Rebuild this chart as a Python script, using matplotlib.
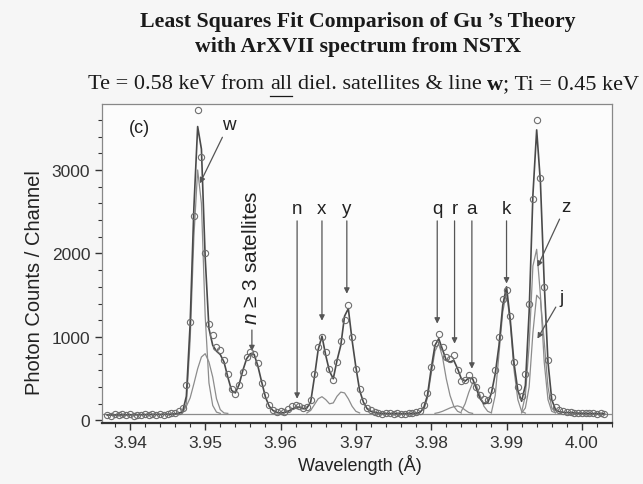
import numpy as np
import matplotlib
matplotlib.use('Agg')
import matplotlib.pyplot as plt
from matplotlib.ticker import MultipleLocator
from matplotlib.lines import Line2D

plt.rcParams['font.family'] = ['Liberation Sans', 'DejaVu Sans']
plt.rcParams['mathtext.fontset'] = 'custom'
plt.rcParams['mathtext.it'] = 'Liberation Sans:italic'
plt.rcParams['mathtext.rm'] = 'Liberation Sans'

########################## spectrum, 0.0005 A per channel from 3.9370 A
wl_start = 3.9370
wl_step = 0.0005
counts = [70, 55, 72, 64, 80, 62, 75, 58, 70, 66, 78, 60, 74, 69, 82, 71, 77, 85, 92,
          110, 150, 420, 1180, 2450, 3720, 3150, 2000, 1150, 1020, 880, 840, 720, 560,
          380, 320, 420, 580, 760, 820, 800, 690, 450, 300, 180, 130, 100, 110, 105,
          140, 170, 190, 175, 150, 160, 250, 560, 880, 1000, 820, 620, 480, 700, 950,
          1200, 1380, 1000, 620, 380, 230, 150, 120, 100,
          90, 78, 85, 95, 72, 88, 80, 76, 92, 84, 98,
          110, 180, 330, 640, 930, 1040, 880, 760, 740, 780, 600, 470, 490, 540, 480,
          400, 300, 260, 250, 360, 600, 1000, 1450, 1560, 1250, 700, 400, 290, 560,
          1400, 2650, 3600, 2900, 1600, 720, 280, 160, 130,
          110, 105, 100, 95, 92, 88, 86, 90, 84, 80, 88, 76]
fit = [65, 65, 66, 66, 67, 67, 68, 68, 69, 69, 70, 70, 71, 71, 72, 73, 74, 76, 80,
       88, 105, 290, 1150, 2550, 3520, 3250, 1950, 1100, 900, 830, 790, 700, 520,
       360, 330, 430, 600, 740, 800, 790, 650, 460, 280, 170, 120, 95, 90, 95,
       110, 135, 160, 160, 140, 150, 220, 520, 850, 1010, 780, 590, 500, 720, 900,
       1250, 1340, 960, 640, 360, 220, 140, 110, 95,
       88, 85, 84, 83, 82, 82, 82, 82, 83, 85, 88,
       95, 150, 300, 620, 900, 980, 850, 720, 700, 720, 620, 500, 470, 510, 500,
       380, 260, 200, 210, 330, 560, 900, 1380, 1600, 1200, 680, 360, 230, 420,
       1300, 2700, 3480, 2850, 1650, 700, 250, 130, 105,
       98, 95, 92, 90, 88, 86, 85, 84, 83, 82, 82, 81]

# fitted components (start wavelength, values on the same channel step)
w_start, w_line = 3.9470, [90, 200, 950, 2200, 3000, 2600, 1250, 450, 180, 100, 85]
sat_start, sat_w = 3.9465, [85, 100, 170, 270, 440, 620, 760, 800, 700, 520, 260, 130, 90, 85]
xy_start, sat_xy = 3.9635, [90, 120, 190, 260, 285, 250, 200, 210, 290, 340, 330, 260, 170, 110, 90]
q_start, q_line = 3.9790, [120, 270, 560, 830, 920, 760, 500, 300, 170, 110, 90]
r_start, r_line = 3.9805, [85, 95, 110, 130, 150, 165, 175, 160, 125, 95, 85]
a_start, a_line = 3.9840, [110, 200, 340, 450, 420, 300, 170, 110, 90]
k_start, k_line = 3.9880, [100, 300, 800, 1300, 1540, 1150, 600, 250, 110, 88]
z_start, z_line = 3.9920, [100, 300, 900, 1850, 2050, 1500, 700, 250, 110, 90]
j_start, j_line = 3.9920, [90, 150, 400, 1050, 1500, 1450, 950, 400, 150, 95]
background = 80

# line labels: (label, wavelength, arrow tip counts)
labels = ['n', 'x', 'y', 'q', 'r', 'a', 'k']
label_wl = [3.9622, 3.9655, 3.9688, 3.9808, 3.9831, 3.9854, 3.9900]
label_tip = [260, 1195, 1518, 1160, 920, 620, 1640]
#########################

def chan(start, vals):
    return start + wl_step*np.arange(len(vals))

fig = plt.figure(figsize=(6.43, 4.85), dpi=100, facecolor='#f6f6f6')
ax = fig.add_axes([0.1586, 0.1258, 0.7932, 0.6577])
ax.set_facecolor('#fcfcfc')

wl = chan(wl_start, counts)
ax.axhline(background, color='#8c8c8c', lw=0.9, zorder=1)
for s, v in [(w_start, w_line), (sat_start, sat_w), (xy_start, sat_xy), (q_start, q_line),
             (r_start, r_line), (a_start, a_line), (k_start, k_line), (z_start, z_line),
             (j_start, j_line)]:
    ax.plot(chan(s, v), v, color='#8c8c8c', lw=0.9, zorder=2)
ax.plot(wl, fit, color='#4a4a4a', lw=1.2, zorder=3)
ax.plot(wl, counts, 'o', mfc='none', mec='#6e6e6e', ms=4.5, mew=0.8, zorder=4)

ax.set_xlim(3.9363, 4.0040)
ax.set_ylim(-30, 3790)
ax.xaxis.set_major_locator(MultipleLocator(0.01))
ax.xaxis.set_minor_locator(MultipleLocator(0.002))
ax.yaxis.set_major_locator(MultipleLocator(1000))
ax.yaxis.set_minor_locator(MultipleLocator(200))
ax.xaxis.set_major_formatter(plt.FormatStrFormatter('%.2f'))
ax.tick_params(which='both', direction='out', colors='#333333', labelsize=12.5)
ax.tick_params(which='major', length=5, width=1)
ax.tick_params(which='minor', length=3, width=0.8)
for sp in ['top', 'right', 'left']:
    ax.spines[sp].set_color('#888888')
    ax.spines[sp].set_linewidth(0.9)
ax.spines['bottom'].set_color('#333333')
ax.spines['bottom'].set_linewidth(1.6)

arrow = dict(arrowstyle='-|>', color='#555555', lw=0.9, mutation_scale=8, shrinkA=1, shrinkB=0)
for lab, x, tip in zip(labels, label_wl, label_tip):
    ax.annotate(lab, xy=(x, tip), xytext=(x, 2440), ha='center', va='bottom',
                fontsize=13.5, color='#222222', arrowprops=arrow)
ax.annotate('w', xy=(3.9493, 2840), xytext=(3.9522, 3440), ha='left', va='bottom',
            fontsize=13.5, color='#222222', arrowprops=arrow)
ax.annotate('z', xy=(3.9941, 1840), xytext=(3.9972, 2460), ha='left', va='bottom',
            fontsize=13.5, color='#222222', arrowprops=arrow)
ax.annotate('j', xy=(3.9941, 980), xytext=(3.9970, 1370), ha='left', va='bottom',
            fontsize=13.5, color='#222222', arrowprops=arrow)
ax.annotate('', xy=(3.9562, 830), xytext=(3.9562, 1100), arrowprops=arrow)
ax.text(3.9562, 1160, r'$\mathit{n}$ ≥ 3 satellites', rotation=90, ha='center', va='bottom',
        fontsize=15, color='#222222')
ax.text(3.9413, 3510, '(c)', ha='center', va='center', fontsize=13, color='#222222')

fig.text(0.054, 0.4165, 'Photon Counts / Channel', rotation=90, ha='center', va='center',
         fontsize=14.5, color='#222222')
fig.text(0.56, 0.041, 'Wavelength (Å)', ha='center', va='center', fontsize=13, color='#222222')

serif = ['Liberation Serif', 'DejaVu Serif']
fig.text(0.557, 0.955, 'Least Squares Fit Comparison of Gu \u2019s Theory', ha='center', va='center',
         fontsize=15.7, fontweight='bold', family=serif, color='#1a1a1a')
fig.text(0.557, 0.903, 'with ArXVII spectrum from NSTX', ha='center', va='center',
         fontsize=15.7, fontweight='bold', family=serif, color='#1a1a1a')

# subtitle built from pieces (underlined "all", bold "w")
sub_size = 16
pieces = [('Te = 0.58 keV from', 'normal', False, True),
          ('all', 'normal', True, True),
          ('diel. satellites & line', 'normal', False, True),
          ('w', 'bold', False, False),
          ('; Ti = 0.45 keV', 'normal', False, False)]
fig.canvas.draw()
rend = fig.canvas.get_renderer()
probe = fig.text(0, 0, 'a a', fontsize=sub_size, family=serif)
probe2 = fig.text(0, 0, 'aa', fontsize=sub_size, family=serif)
space = probe.get_window_extent(rend).width - probe2.get_window_extent(rend).width
probe.remove()
probe2.remove()
texts, widths = [], []
for s, wt, ul, gap in pieces:
    t = fig.text(0, 0.825, s, fontsize=sub_size, fontweight=wt, family=serif, va='center',
                 color='#1a1a1a')
    texts.append(t)
    widths.append(t.get_window_extent(rend).width)
W = fig.bbox.width
total = sum(widths) + space*sum(1 for p in pieces if p[3])
x = 364 - total/2
for t, w, (s, wt, ul, gap) in zip(texts, widths, pieces):
    t.set_x(x/W)
    if ul:
        fig.add_artist(Line2D([x/W, (x + w)/W], [0.800, 0.800], color='#1a1a1a', lw=0.9,
                              transform=fig.transFigure))
    x += w + (space if gap else 0)

fig.savefig('out.png', dpi=100, facecolor=fig.get_facecolor())
